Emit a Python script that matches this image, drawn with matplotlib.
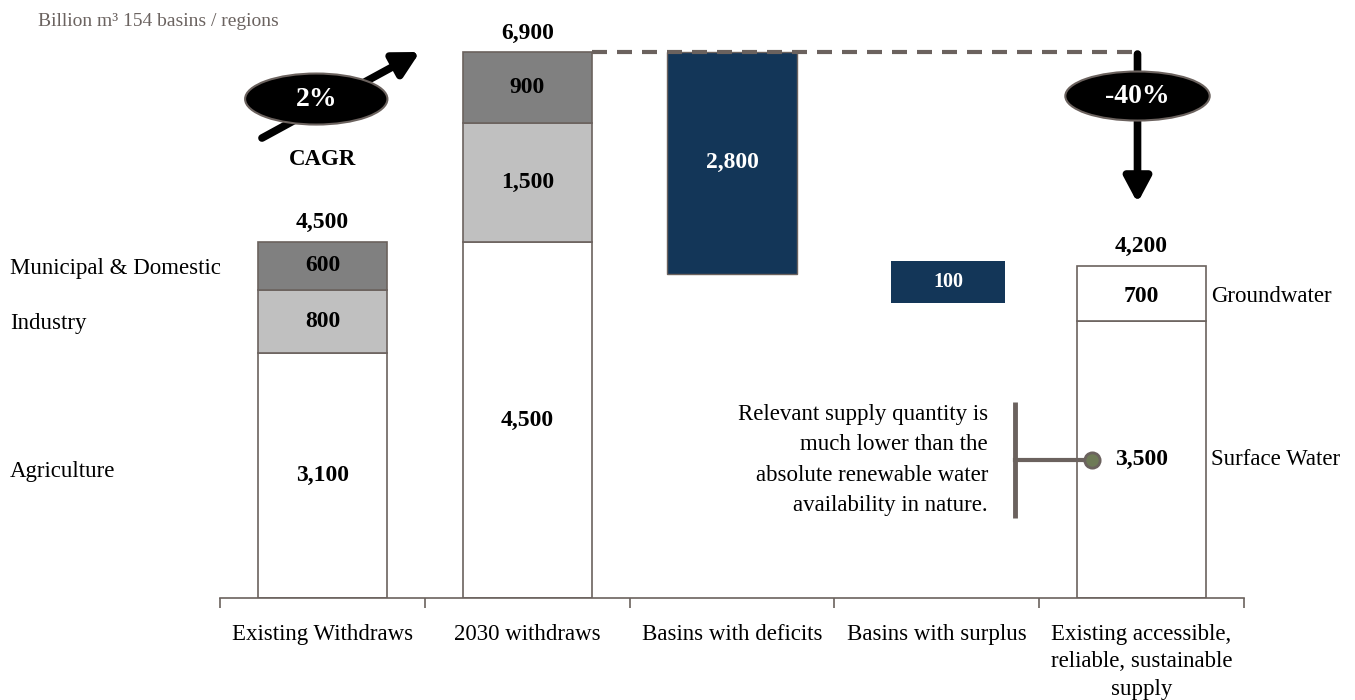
import matplotlib.pyplot as plt
import matplotlib.patches as mpatches
import numpy as np

plt.rcParams['font.family'] = ['Liberation Serif', 'DejaVu Serif']

# ---- data ----
categories = ['Existing Withdraws', '2030 withdraws', 'Basins with deficits',
              'Basins with surplus', 'Existing accessible,\nreliable, sustainable\nsupply']
existing = [3100, 800, 600]          # agriculture, industry, municipal
future = [4500, 1500, 900]
deficit = 2800
surplus = 100
surplus_span = [3730, 4260]          # drawn span (not to scale in original)
supply = [3500, 700]                 # surface water, groundwater
left_labels = ['Agriculture', 'Industry', 'Municipal & Domestic']
right_labels = ['Surface Water', 'Groundwater']

EDGE = '#6b625e'
DARK = '#808080'
LIGHT = '#c0c0c0'
NAVY = '#133658'
seg_colors = ['white', LIGHT, DARK]

NUM = 17     # bold value labels
LAB = 16.5   # plain labels

fig = plt.figure(figsize=(13.55, 7), dpi=100)
ax = fig.add_axes([220 / 1355, 102 / 700, 1024 / 1355, 7500 * 0.0791 / 700])
ax.set_xlim(-0.5, 4.5)
ax.set_ylim(0, 7500)

W = 0.63
# stacked bars 1 and 2
for xi, vals in [(0, existing), (1, future)]:
    bottom = 0
    for v, c in zip(vals, seg_colors):
        ax.bar(xi, v, bottom=bottom, width=W, color=c, edgecolor=EDGE, linewidth=1.2)
        ax.text(xi, bottom + v / 2, f'{v:,}', ha='center', va='center',
                fontsize=NUM, fontweight='bold')
        bottom += v
    ax.text(xi, bottom + 110, f'{bottom:,}', ha='center', va='bottom',
            fontsize=NUM, fontweight='bold')

# deficits
top = sum(future)
ax.bar(2, deficit, bottom=top - deficit, width=W, color=NAVY, edgecolor=EDGE, linewidth=1)
ax.text(2, top - deficit / 2, f'{deficit:,}', ha='center', va='center',
        fontsize=NUM, fontweight='bold', color='white')

# surplus
ax.bar(3.055, surplus_span[1] - surplus_span[0], bottom=surplus_span[0], width=0.56,
       color=NAVY, linewidth=0)
ax.text(3.055, sum(surplus_span) / 2, f'{surplus:,}', ha='center', va='center',
        fontsize=14.5, fontweight='bold', color='white')

# supply
bottom = 0
for v in supply:
    ax.bar(4, v, bottom=bottom, width=W, color='white', edgecolor=EDGE, linewidth=1.2)
    bottom += v
ax.text(4, supply[0] + supply[1] / 2 - 40, f'{supply[1]:,}', ha='center', va='center',
        fontsize=NUM, fontweight='bold')
ax.text(4, supply[0] / 2, f'{supply[0]:,}', ha='center', va='center',
        fontsize=NUM, fontweight='bold')
ax.text(4, bottom + 110, f'{bottom:,}', ha='center', va='bottom',
        fontsize=NUM, fontweight='bold')

# left / right series labels
ypos_left = [1600, existing[0] + existing[1] / 2 - 30,
             existing[0] + existing[1] + existing[2] / 2 - 30]
for lab, yv in zip(left_labels, ypos_left):
    ax.text(-1.525, yv, lab, ha='left', va='center', fontsize=LAB, clip_on=False)
ax.text(4.34, supply[0] / 2, right_labels[0], ha='left', va='center', fontsize=LAB)
ax.text(4.34, supply[0] + supply[1] / 2 - 40, right_labels[1], ha='left', va='center',
        fontsize=LAB)

# dashed reference line
ax.plot([1.315, 3.97], [top, top], ls=(0, (3.6, 2.4)), color=EDGE, lw=3, clip_on=False)

arrow = dict(arrowstyle='-|>,head_length=1.5,head_width=0.8',
             lw=5.5, color='black', shrinkA=0, shrinkB=0)

# CAGR arrow + ellipse
ax.annotate('', xy=(0.476, 6903), xytext=(-0.295, 5815), arrowprops=arrow,
            annotation_clip=False)
ax.add_patch(mpatches.Ellipse((-0.03, 6308), 0.695, 645, facecolor='black',
                              edgecolor=EDGE, lw=1.5, zorder=5, clip_on=False))
ax.text(-0.03, 6308, '2%', ha='center', va='center', color='white',
        fontsize=20, fontweight='bold', zorder=6)
ax.text(0.0, 5540, 'CAGR', ha='center', va='center', fontsize=16.5, fontweight='bold')

# -40% arrow + ellipse
ax.annotate('', xy=(3.98, 4994), xytext=(3.98, 6877), arrowprops=arrow,
            annotation_clip=False)
ax.add_patch(mpatches.Ellipse((3.98, 6346), 0.705, 620, facecolor='black',
                              edgecolor=EDGE, lw=1.5, zorder=5, clip_on=False))
ax.text(3.98, 6346, '-40%', ha='center', va='center', color='white',
        fontsize=20, fontweight='bold', zorder=6)

# annotation bracket
ax.plot([3.382, 3.382], [1011, 2478], color=EDGE, lw=3.5, solid_capstyle='butt')
ax.plot([3.382, 3.755], [supply[0] / 2, supply[0] / 2], color=EDGE, lw=3)
ax.plot([3.758], [supply[0] / 2], 'o', ms=11, mfc='#6e7a56', mec=EDGE, mew=2, zorder=5)
ax.text(3.25, 1745, 'Relevant supply quantity is\nmuch lower than the\nabsolute renewable water\navailability in nature.',
        ha='right', va='center', fontsize=LAB, linespacing=1.6)

# axes styling
for s in ['top', 'right', 'left']:
    ax.spines[s].set_visible(False)
ax.spines['bottom'].set_color(EDGE)
ax.spines['bottom'].set_linewidth(1.2)
ax.set_yticks([])
ax.set_xticks(np.arange(5))
ax.set_xticklabels(categories, fontsize=LAB, va='top', linespacing=1.38)
ax.tick_params(axis='x', which='major', length=0, pad=19)
ax.set_xticks(np.arange(-0.5, 5, 1), minor=True)
ax.tick_params(axis='x', which='minor', length=7, color=EDGE, width=1.2, direction='out')

fig.text(38 / 1355, 1 - 22 / 700, 'Billion m³ 154 basins / regions', ha='left',
         va='center', fontsize=14, color='#6b6360')

fig.savefig('out.png', dpi=100)
